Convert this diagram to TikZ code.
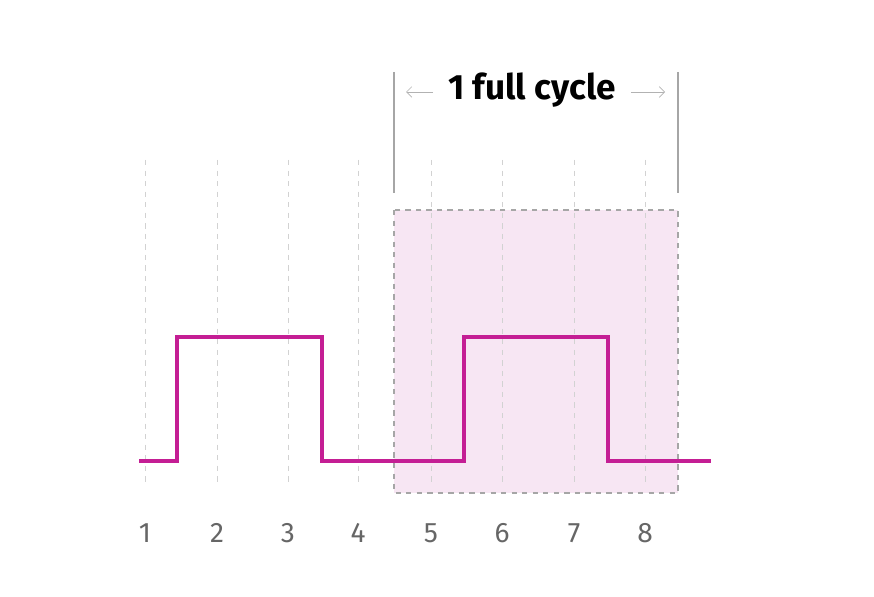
\documentclass[tikz,border=0pt]{standalone}
\usepackage{fontspec}
\setmainfont{Fira Sans}
\usetikzlibrary{arrows.meta, positioning}

\definecolor{wavemag}{RGB}{196,30,148}
\definecolor{cyclepink}{RGB}{247,230,243}

\begin{document}
\begin{tikzpicture}[
	x=0.02cm, y=-0.02cm,
	every node/.style={font=\fontsize{16}{18}\selectfont},
	grid/.style={gray!35, dash pattern=on 3pt off 3pt, thin},
	tick/.style={text=gray!80!black},
	bracket/.style={gray!70, line width=0.8pt},
	arrow/.style={gray!60, thin, -{Straight Barb[length=3pt]}},
	wave/.style={wavemag, line width=1.8pt}
	]
	\useasboundingbox (0,0) rectangle (874,597);
	
	% Cycle box
	\fill[cyclepink] (394,210) rectangle (678,493);
	
	% Grid and labels
	\foreach \i/\x in {1/145, 2/217, 3/288, 4/358, 5/431, 6/502, 7/574, 8/645} {
		\draw[grid] (\x,160) -- (\x,485);
		\node[tick] (n\i) at (\x,533) {\i};
	}
	\draw[gray!70, dashed, line width=0.6pt] (394,210) rectangle (678,493);
	
	% Cycle marker
	\coordinate (left top) at (394,72);
	\coordinate (left bot) at (394,193);
	\coordinate (right top) at (678,72);
	\coordinate (right bot) at (678,193);
	\draw[bracket] (left top) -- (left bot);
	\draw[bracket] (right top) -- (right bot);
	\node[font=\fontsize{20}{24}\selectfont\bfseries] (cycle) at (532,90) {1 full cycle};
	\coordinate (arr l) at (406,92);
	\coordinate (arr r) at (665,92);
	\draw[arrow] ([xshift=-5pt]cycle.west |- arr l) -- (arr l);
	\draw[arrow] ([xshift=5pt]cycle.east |- arr r) -- (arr r);
	
	% Square wave
	\draw[wave] (139,461) -- (177,461) -- (177,337) -- (322,337) -- (322,461)
		-- (464,461) -- (464,337) -- (608,337) -- (608,461) -- (711,461);
\end{tikzpicture}
\end{document}
